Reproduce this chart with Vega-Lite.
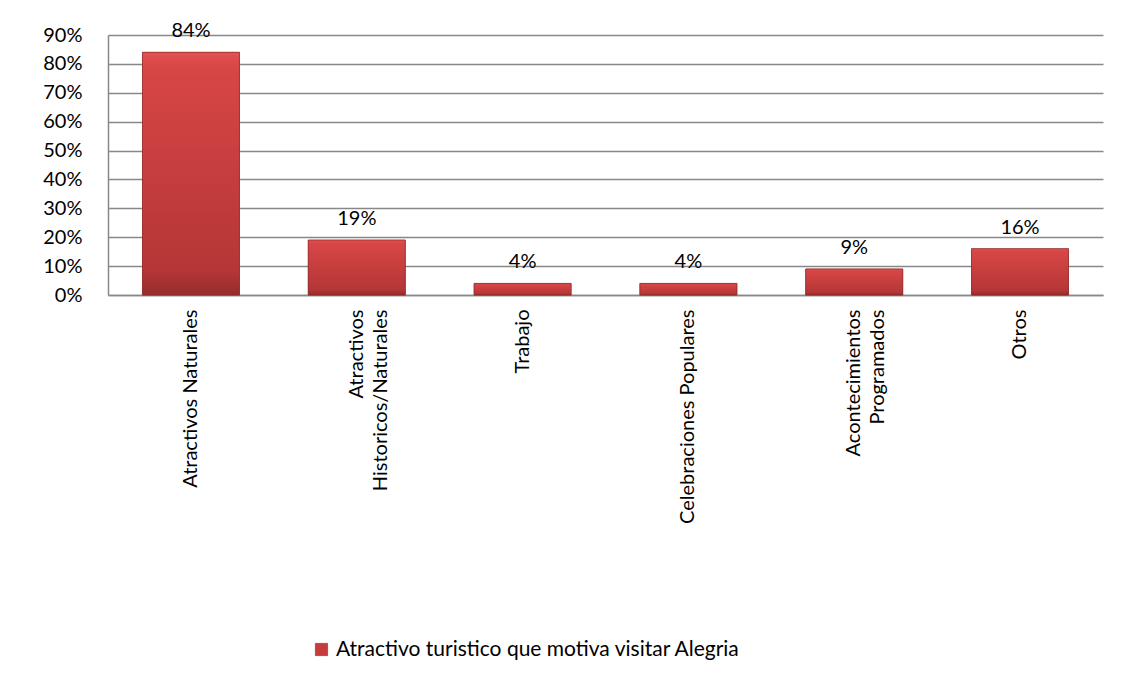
{
  "$schema": "https://vega.github.io/schema/vega-lite/v6.json",
  "width": 995,
  "height": 260,
  "padding": {"left": 42, "top": 21, "right": 20, "bottom": 10},
  "background": "white",
  "config": {
    "font": "Lato",
    "view": {"stroke": null},
    "axis": {"labelFont": "Lato", "labelColor": "black", "labelFontSize": 20, "labelLimit": 0}
  },
  "data": {
    "values": [
      {"categoria": "Atractivos Naturales", "valor": 0.84, "serie": "Atractivo turistico que motiva visitar Alegria"},
      {"categoria": "Atractivos|Historicos/Naturales", "valor": 0.19, "serie": "Atractivo turistico que motiva visitar Alegria"},
      {"categoria": "Trabajo", "valor": 0.04, "serie": "Atractivo turistico que motiva visitar Alegria"},
      {"categoria": "Celebraciones Populares", "valor": 0.04, "serie": "Atractivo turistico que motiva visitar Alegria"},
      {"categoria": "Acontecimientos|Programados", "valor": 0.09, "serie": "Atractivo turistico que motiva visitar Alegria"},
      {"categoria": "Otros", "valor": 0.16, "serie": "Atractivo turistico que motiva visitar Alegria"}
    ]
  },
  "encoding": {
    "x": {
      "field": "categoria",
      "type": "nominal",
      "sort": null,
      "scale": {"paddingInner": 0.415, "paddingOuter": 0.208},
      "axis": {
        "title": null,
        "labelAngle": -90,
        "labelAlign": "right",
        "labelBaseline": "middle",
        "labelPadding": 14,
        "labelExpr": "split(datum.label, '|')",
        "labelLineHeight": 24,
        "ticks": false,
        "domainColor": "#888888",
        "domainWidth": 1.5
      }
    },
    "y": {
      "field": "valor",
      "type": "quantitative",
      "scale": {"domain": [0, 0.9], "nice": false},
      "axis": {
        "title": null,
        "format": ".0%",
        "values": [0, 0.1, 0.2, 0.3, 0.4, 0.5, 0.6, 0.7, 0.8, 0.9],
        "ticks": false,
        "labelPadding": 26,
        "grid": true,
        "gridColor": "#888888",
        "gridWidth": 1.5,
        "domainColor": "#888888",
        "domainWidth": 1.5
      }
    }
  },
  "layer": [
    {
      "mark": {"type": "bar", "stroke": "#8a2a2a", "strokeWidth": 0.6},
      "encoding": {
        "color": {
          "field": "serie",
          "type": "nominal",
          "scale": {"range": ["#c43c3c"]},
          "legend": {
            "title": null,
            "orient": "none",
            "legendX": 203,
            "legendY": 604,
            "direction": "horizontal",
            "symbolType": "square",
            "symbolSize": 150,
            "symbolStrokeColor": "#8a2a2a",
            "symbolStrokeWidth": 0.6,
            "labelFontSize": 21,
            "labelLimit": 0,
            "labelFont": "Lato",
            "labelColor": "black"
          }
        }
      }
    },
    {
      "mark": {
        "type": "bar",
        "stroke": "#8a2a2a",
        "strokeWidth": 0.6,
        "fill": {"gradient": "linear", "x1": 0, "y1": 0, "x2": 0, "y2": 1, "stops": [{"offset": 0, "color": "#e35252"}, {"offset": 0.06, "color": "#d84646"}, {"offset": 0.9, "color": "#b53636"}, {"offset": 1, "color": "#982b2b"}]}
      },
      "encoding": {}
    },
    {
      "mark": {"type": "text", "baseline": "bottom", "dy": -11, "fontSize": 20, "font": "Lato", "color": "black"},
      "encoding": {
        "text": {"field": "valor", "type": "quantitative", "format": ".0%"}
      }
    }
  ]
}
